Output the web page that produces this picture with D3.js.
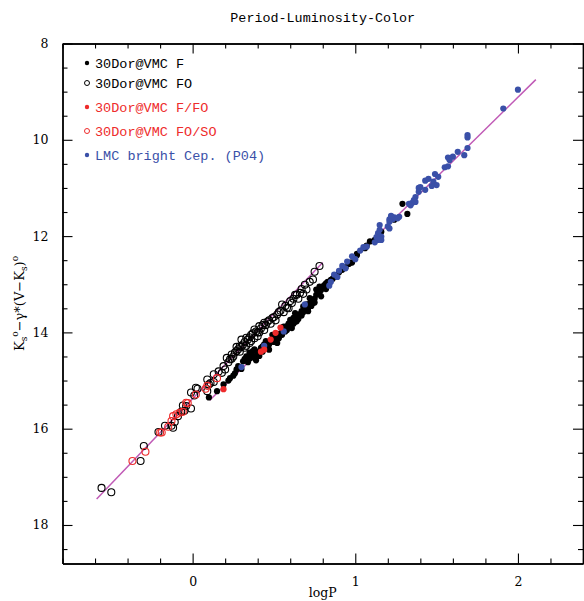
<!DOCTYPE html>
<html>
<head>
<meta charset="utf-8">
<script src="https://cdn.jsdelivr.net/npm/d3@7"></script>
<style>
  body { margin: 0; background: #fff; }
  svg { display: block; }
</style>
</head>
<body>
<svg id="chart" width="584" height="601"></svg>
<script>
// data: [logP, Ks0 - gamma*(V-Ks)0]
const fPoints = [
  [0.10,15.35],[0.15,15.22],[0.19,15.08],[0.22,15.00],[0.26,14.85],[0.27,14.77],[0.30,14.76],[0.31,14.60],
  [0.36,14.46],[0.37,14.39],[0.39,14.58],[0.40,14.46],[0.41,14.49],[0.43,14.29],[0.45,14.18],[0.47,14.36],
  [0.50,14.11],[0.52,14.22],[0.53,14.05],[0.56,13.94],[0.58,13.87],[0.60,13.74],[0.61,13.91],[0.63,13.60],
  [0.64,13.77],[0.65,13.67],[0.67,13.56],[0.68,13.46],[0.70,13.42],[0.71,13.56],[0.72,13.29],[0.74,13.39],
  [0.76,13.22],[0.78,13.18],[0.80,13.05],[0.82,12.98],[0.85,12.91],[0.78,13.05],[0.76,13.11],[0.86,12.89],
  [0.90,12.75],[0.94,12.65],[0.97,12.55],[0.98,12.55],[1.01,12.37],[1.01,12.40],[1.06,12.25],[1.07,12.20],
  [1.09,12.11],[1.12,12.08],[1.16,11.91],[1.24,11.66],[1.29,11.33],[1.32,11.54],
  [0.33,14.50],[0.34,14.62],[0.35,14.42],[0.38,14.35],[0.42,14.38],[0.44,14.25],[0.46,14.28],[0.48,14.20],
  [0.49,14.05],[0.51,14.15],[0.54,14.02],[0.55,13.90],[0.57,13.98],[0.59,13.82],[0.62,13.70],[0.66,13.62],
  [0.69,13.50],[0.73,13.35],[0.75,13.30],[0.77,13.15],[0.79,13.12],[0.81,13.02],[0.83,12.95],[0.84,12.98],
  [0.87,12.85],[0.88,12.82],[0.92,12.70],[0.96,12.58],[0.60,13.80],[0.62,13.82],[0.64,13.70],[0.56,13.88],
  [0.52,14.10],[0.46,14.22],[0.42,14.32],[0.38,14.50],[0.70,13.48],[0.72,13.40],
  [0.28,14.70],[0.32,14.55],[0.35,14.55],[0.37,14.52],[0.40,14.40],[0.43,14.40],[0.45,14.32],[0.47,14.25],
  [0.50,14.20],[0.53,14.12],[0.55,14.05],[0.58,13.95],[0.60,13.88],[0.63,13.78],[0.65,13.72],[0.67,13.65],
  [0.68,13.58],[0.71,13.50],[0.73,13.45],[0.75,13.38],[0.79,13.25],[0.82,13.10],[0.25,14.90],[0.23,14.95]
];
const foPoints = [
  [-0.56,17.23],[-0.50,17.32],[-0.32,16.67],[-0.30,16.36],[-0.21,16.07],[-0.17,15.94],[-0.13,15.94],[-0.12,15.98],
  [-0.11,15.86],[-0.09,15.74],[-0.07,15.65],[-0.06,15.52],[-0.05,15.63],[-0.01,15.58],[-0.04,15.53],[0.01,15.31],
  [0.03,15.17],[0.09,15.22],[0.10,15.08],[0.13,15.03],[-0.01,15.25],[0.02,15.15],[0.09,14.98],[0.11,15.05],
  [0.13,14.87],[0.16,14.81],[0.18,14.84],[0.20,14.77],[0.21,14.53],[0.23,14.56],[0.24,14.46],[0.27,14.39],
  [0.29,14.29],[0.30,14.15],[0.33,14.11],[0.36,14.05],[0.38,13.94],[0.41,13.87],[0.44,13.80],[0.49,13.70],
  [0.52,13.63],[0.55,13.42],[0.58,13.49],[0.61,13.39],[0.64,13.22],[0.69,13.01],[0.75,12.74],[0.78,12.62],
  [0.70,13.11],[0.63,13.22],
  [0.22,14.62],[0.25,14.50],[0.26,14.42],[0.28,14.35],[0.31,14.25],[0.32,14.20],[0.34,14.15],[0.35,14.10],
  [0.37,14.02],[0.39,13.98],[0.40,14.00],[0.42,13.92],[0.43,13.85],[0.45,13.85],[0.46,13.78],[0.47,13.75],
  [0.50,13.68],[0.53,13.58],[0.54,13.55],[0.57,13.45],[0.60,13.35],[0.62,13.30],[0.66,13.18],[0.67,13.10],
  [0.72,12.95],[0.27,14.30],[0.30,14.30],[0.33,14.28],[0.36,14.18],[0.41,14.00],
  [0.24,14.55],[0.29,14.40],[0.32,14.32],[0.35,14.22],[0.38,14.12],[0.40,14.08],[0.44,13.95],[0.48,13.82],
  [0.51,13.75],[0.56,13.58],[0.59,13.50],[0.65,13.30],[0.68,13.20],[0.74,12.90],[0.19,14.70]
];
const fFoPoints = [[0.19,15.18],[0.44,14.36],[0.48,14.15],[0.51,14.01],[0.54,13.90],[0.42,14.40]];
const foSoPoints = [
  [-0.37,16.67],[-0.29,16.48],[-0.20,16.08],[-0.19,16.08],[-0.15,15.96],[-0.12,15.74],[-0.10,15.70],[-0.08,15.67],
  [-0.13,15.84],[-0.03,15.47],[0.02,15.29],[0.08,15.17],[-0.06,15.65],[0.09,15.11],[-0.04,15.46],[0.15,14.95]
];
const lmcPoints = [
  [2.00,8.96],[1.91,9.35],[1.69,9.90],[1.69,9.95],[1.63,10.25],[1.69,10.17],[1.67,10.32],[1.60,10.35],
  [1.57,10.37],[1.58,10.42],[1.55,10.57],[1.57,10.55],[1.49,10.71],[1.51,10.77],[1.45,10.81],[1.43,10.85],
  [1.48,10.87],[1.50,10.94],[1.47,10.96],[1.39,11.00],[1.40,10.98],[1.43,11.04],[1.39,11.08],[1.37,11.19],
  [1.36,11.25],[1.35,11.31],[1.37,11.29],[1.33,11.33],[1.34,11.36],[1.27,11.60],[1.26,11.63],[1.24,11.61],
  [1.22,11.58],[1.23,11.65],[1.21,11.65],[1.22,11.60],[1.21,11.70],[1.20,11.80],[1.21,11.84],[1.15,11.77],
  [1.15,11.87],[1.14,11.94],[1.16,12.01],[1.13,12.02],[1.16,12.08],[1.14,12.08],[1.12,12.13],[1.05,12.23],
  [1.07,12.22],[0.98,12.42],[0.95,12.53],[0.94,12.67],[0.92,12.62],[0.90,12.72],[0.87,12.80],[0.84,13.03],
  [0.69,13.42],[0.56,13.98],[0.44,14.28],[0.30,14.72],[0.89,12.85],[1.00,12.48],[1.03,12.30],[0.85,12.95]
];
// fitted PL relations: [logP, mag] end points
const fLine = [[0.105,15.41],[2.11,8.75]];
const foLine = [[-0.59,17.46],[0.80,12.55]];

const xTicks = [0, 1, 2];
const yTicks = [8, 10, 12, 14, 16, 18];

const legendItems = [
  { label: "30Dor@VMC F", color: "#000", filled: true },
  { label: "30Dor@VMC FO", color: "#000", filled: false },
  { label: "30Dor@VMC F/FO", color: "#ee2b2b", filled: true },
  { label: "30Dor@VMC FO/SO", color: "#ee2b2b", filled: false },
  { label: "LMC bright Cep. (P04)", color: "#3a50a8", filled: true }
];

const svg = d3.select("#chart");
const margin = { top: 43.5, right: 1, bottom: 37.5, left: 62.5 };
const width = 584, height = 601;
const x = d3.scaleLinear().domain([-0.8, 2.4]).range([margin.left, width - margin.right]);
const y = d3.scaleLinear().domain([8, 18.8]).range([margin.top, height - margin.bottom]);

const serif = "'DejaVu Serif', 'Liberation Serif', serif";
const mono = "'Liberation Mono', 'DejaVu Sans Mono', monospace";

// title
svg.append("text")
  .attr("x", (x.range()[0] + x.range()[1]) / 2).attr("y", 22)
  .attr("text-anchor", "middle")
  .attr("font-family", mono).attr("font-size", 13.4)
  .text("Period-Luminosity-Color");

// axes (ticks inward on all sides)
const xMinor = d3.range(-0.8, 2.41, 0.2).map(v => +v.toFixed(1)).filter(v => !xTicks.includes(v));
const yMinor = d3.range(8, 18.81, 0.5).filter(v => !yTicks.includes(v));

function drawAxis(axisFn, scale, ticks, size, transform, labels) {
  const g = svg.append("g").attr("transform", transform)
    .call(axisFn(scale).tickValues(ticks).tickSizeInner(size).tickSizeOuter(0)
      .tickPadding(labels ? 14 : 0).tickFormat(labels ? d3.format("d") : ""));
  g.select(".domain").attr("stroke-width", 1.4);
  g.selectAll(".tick line").attr("stroke-width", 1.1);
  g.selectAll("text").attr("font-family", serif).attr("font-size", 12.5).attr("fill", "#000");
  return g;
}
const bottomY = y.range()[1], topY = y.range()[0];
const leftX = x.range()[0], rightX = x.range()[1];
drawAxis(d3.axisBottom, x, xTicks, -10, `translate(0,${bottomY})`, true);
drawAxis(d3.axisBottom, x, xMinor, -5, `translate(0,${bottomY})`, false);
drawAxis(d3.axisTop, x, xTicks, -10, `translate(0,${topY})`, false);
drawAxis(d3.axisTop, x, xMinor, -5, `translate(0,${topY})`, false);
drawAxis(d3.axisLeft, y, yTicks, -10, `translate(${leftX},0)`, true);
drawAxis(d3.axisLeft, y, yMinor, -5, `translate(${leftX},0)`, false);
drawAxis(d3.axisRight, y, yTicks, -10, `translate(${rightX},0)`, false);
drawAxis(d3.axisRight, y, yMinor, -5, `translate(${rightX},0)`, false);

// axis titles
svg.append("text")
  .attr("x", (leftX + rightX) / 2).attr("y", 597)
  .attr("text-anchor", "middle")
  .attr("font-family", serif).attr("font-size", 12.5)
  .text("logP");

const yLab = svg.append("text")
  .attr("transform", `translate(24,${(topY + bottomY) / 2}) rotate(-90)`)
  .attr("text-anchor", "middle")
  .attr("font-family", serif).attr("font-size", 13);
yLab.append("tspan").text("K");
yLab.append("tspan").attr("font-size", 9).attr("dy", 3).text("s");
yLab.append("tspan").attr("font-size", 9).attr("dy", -9).text("o");
yLab.append("tspan").attr("dy", 6).text("\u2212\u03b3*(V\u2212K");
yLab.append("tspan").attr("font-size", 9).attr("dy", 3).text("s");
yLab.append("tspan").attr("dy", -3).text(")");
yLab.append("tspan").attr("font-size", 9).attr("dy", -6).text("o");

// PL lines
const lineColor = "#c05ab6";
const line = d3.line().x(d => x(d[0])).y(d => y(d[1]));
[fLine, foLine].forEach(l => {
  svg.append("path").attr("d", line(l))
    .attr("fill", "none").attr("stroke", lineColor).attr("stroke-width", 1.5);
});

// points
function drawPoints(data, color, filled, r) {
  svg.append("g").selectAll("circle").data(data).join("circle")
    .attr("cx", d => x(d[0])).attr("cy", d => y(d[1])).attr("r", r)
    .attr("fill", filled ? color : "none")
    .attr("stroke", color).attr("stroke-width", filled ? 0 : 1.1);
}
drawPoints(foPoints, "#000", false, 3.5);
drawPoints(foSoPoints, "#ee2b2b", false, 3.5);
drawPoints(fPoints, "#000", true, 3.1);
drawPoints(lmcPoints, "#3a50a8", true, 3.1);
drawPoints(fFoPoints, "#ee2b2b", true, 3.1);

// legend
const legendY = [67, 87, 111, 135, 159];
const legend = svg.append("g");
legendItems.forEach((item, i) => {
  legend.append("circle")
    .attr("cx", 87).attr("cy", legendY[i] - 4).attr("r", item.filled ? 2.2 : 2.5)
    .attr("fill", item.filled ? item.color : "none")
    .attr("stroke", item.color).attr("stroke-width", item.filled ? 0 : 1);
  legend.append("text")
    .attr("x", 95).attr("y", legendY[i] + 1)
    .attr("font-family", mono).attr("font-size", 13.5)
    .attr("fill", item.color)
    .text(item.label);
});
</script>
</body>
</html>
